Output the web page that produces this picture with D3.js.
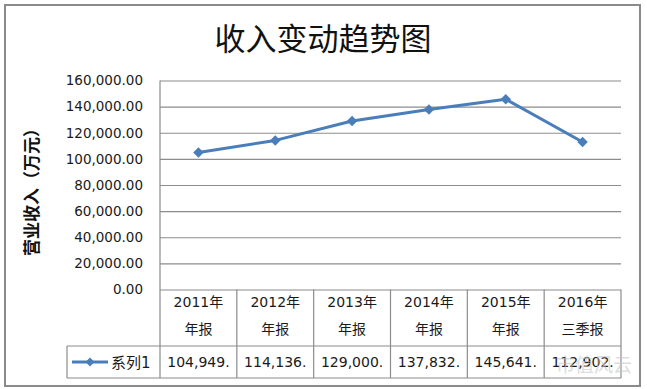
<!DOCTYPE html>
<html>
<head>
<meta charset="utf-8">
<script src="https://cdn.jsdelivr.net/npm/d3@7"></script>
<style>
	body { margin: 0; background: #fff; }
	text { font-family: "DejaVu Sans", "Noto Sans CJK SC", sans-serif; }
</style>
</head>
<body>
<div id="graph"></div>
<script>
// chart data
var categories = ["2011年|年报", "2012年|年报", "2013年|年报", "2014年|年报", "2015年|年报", "2016年|三季报"];
var values = [104949, 114136, 129000, 137832, 145641, 112902];
var cellLabels = ["104,949.", "114,136.", "129,000.", "137,832.", "145,641.", "112,902."];
var yTicks = [0, 20000, 40000, 60000, 80000, 100000, 120000, 140000, 160000];
var seriesName = "系列1";

var w = 647, h = 389;
var plotLeft = 160, plotRight = 621, plotTop = 80.5, plotBottom = 289.5;
var rowMid = 346, rowBottom = 378;
var blue = "#4a7ebb";
var lineGray = "#8c8c8c";

var svg = d3.select("#graph")
	.append("svg")
	.attr("width", w)
	.attr("height", h);

// outer frame
svg.append("rect")
	.attr("x", 5).attr("y", 5)
	.attr("width", 635).attr("height", 381)
	.attr("fill", "#fff")
	.attr("stroke", "#8a8a8a")
	.attr("stroke-width", 2);

var xScale = d3.scaleBand()
	.domain(categories)
	.range([plotLeft, plotRight]);
var yScale = d3.scaleLinear()
	.domain([0, 160000])
	.range([plotBottom, plotTop]);

// title
svg.append("text")
	.attr("x", 323)
	.attr("y", 50)
	.attr("text-anchor", "middle")
	.style("font-family", "'Noto Sans CJK SC', sans-serif")
	.style("font-size", "31px")
	.attr("fill", "#111")
	.text("收入变动趋势图");

// grid
var grid = svg.append("g")
	.attr("transform", "translate(" + plotLeft + ",0)")
	.call(d3.axisLeft(yScale).tickValues(yTicks).tickSize(-(plotRight - plotLeft)).tickFormat(""));
grid.select(".domain").remove();
grid.selectAll("line").attr("stroke", lineGray).attr("stroke-width", 1.2);

// y axis labels
var yAxis = svg.append("g")
	.attr("transform", "translate(" + (plotLeft - 17) + ",0)")
	.call(d3.axisLeft(yScale).tickValues(yTicks).tickSize(0).tickFormat(d3.format(",.2f")));
yAxis.select(".domain").remove();
yAxis.selectAll("text")
	.attr("x", 0)
	.style("font-size", "13.5px")
	.attr("fill", "#1a1a1a");

// y axis title
svg.append("text")
	.attr("transform", "translate(38," + 188 + ") rotate(-90)")
	.attr("text-anchor", "middle")
	.style("font-family", "'Noto Sans CJK SC', sans-serif")
	.style("font-size", "17px")
	.style("font-weight", "bold")
	.attr("fill", "#111")
	.text("营业收入（万元）");

// table lines
var table = svg.append("g");
table.append("line")
	.attr("x1", plotLeft).attr("x2", plotLeft)
	.attr("y1", plotTop).attr("y2", rowBottom)
	.attr("stroke", lineGray).attr("stroke-width", 1.2);
categories.forEach(function (c) {
	table.append("line")
		.attr("x1", xScale(c) + xScale.bandwidth()).attr("x2", xScale(c) + xScale.bandwidth())
		.attr("y1", plotBottom).attr("y2", rowBottom)
		.attr("stroke", lineGray).attr("stroke-width", 1.2);
});
table.append("line")
	.attr("x1", 67).attr("x2", plotRight)
	.attr("y1", rowMid).attr("y2", rowMid)
	.attr("stroke", lineGray).attr("stroke-width", 1.2);
table.append("line")
	.attr("x1", 67).attr("x2", plotRight)
	.attr("y1", rowBottom).attr("y2", rowBottom)
	.attr("stroke", lineGray).attr("stroke-width", 1.2);
table.append("line")
	.attr("x1", 67).attr("x2", 67)
	.attr("y1", rowMid).attr("y2", rowBottom)
	.attr("stroke", lineGray).attr("stroke-width", 1.2);

// category headers
categories.forEach(function (c) {
	var parts = c.split("|");
	var t = table.append("text")
		.attr("text-anchor", "middle")
		.style("font-size", "14px")
		.attr("fill", "#1a1a1a");
	t.append("tspan")
		.attr("x", xScale(c) + xScale.bandwidth() / 2)
		.attr("y", 307)
		.text(parts[0]);
	t.append("tspan")
		.attr("x", xScale(c) + xScale.bandwidth() / 2)
		.attr("y", 334)
		.text(parts[1]);
});

// value cells
cellLabels.forEach(function (v, i) {
	table.append("text")
		.attr("x", xScale(categories[i]) + xScale.bandwidth() / 2)
		.attr("y", 367)
		.attr("text-anchor", "middle")
		.style("font-size", "14px")
		.attr("fill", "#1a1a1a")
		.text(v);
});

// legend key in table
var legend = svg.append("g");
legend.append("line")
	.attr("x1", 72).attr("x2", 108)
	.attr("y1", 362).attr("y2", 362)
	.attr("stroke", blue).attr("stroke-width", 3);
legend.append("path")
	.attr("d", d3.symbol().type(d3.symbolDiamond2).size(50))
	.attr("transform", "translate(90,362)")
	.attr("fill", blue);
legend.append("text")
	.attr("x", 111)
	.attr("y", 368)
	.style("font-size", "15px")
	.attr("fill", "#1a1a1a")
	.text(seriesName);

// series line
var line = d3.line()
	.x(function (d, i) { return xScale(categories[i]) + xScale.bandwidth() / 2; })
	.y(function (d) { return yScale(d); });

svg.append("path")
	.datum(values)
	.attr("d", line)
	.attr("fill", "none")
	.attr("stroke", blue)
	.attr("stroke-width", 3)
	.attr("stroke-linejoin", "round");

svg.selectAll(".marker")
	.data(values)
	.enter()
	.append("path")
	.attr("class", "marker")
	.attr("d", d3.symbol().type(d3.symbolDiamond2).size(70))
	.attr("transform", function (d, i) {
		return "translate(" + (xScale(categories[i]) + xScale.bandwidth() / 2) + "," + yScale(d) + ")";
	})
	.attr("fill", blue);

// watermark
svg.append("text")
	.attr("x", 556)
	.attr("y", 372)
	.style("font-family", "'Noto Sans CJK SC', sans-serif")
	.style("font-size", "19px")
	.attr("fill", "#c8c8c8")
	.attr("opacity", 0.6)
	.text("市值风云");
</script>
</body>
</html>
